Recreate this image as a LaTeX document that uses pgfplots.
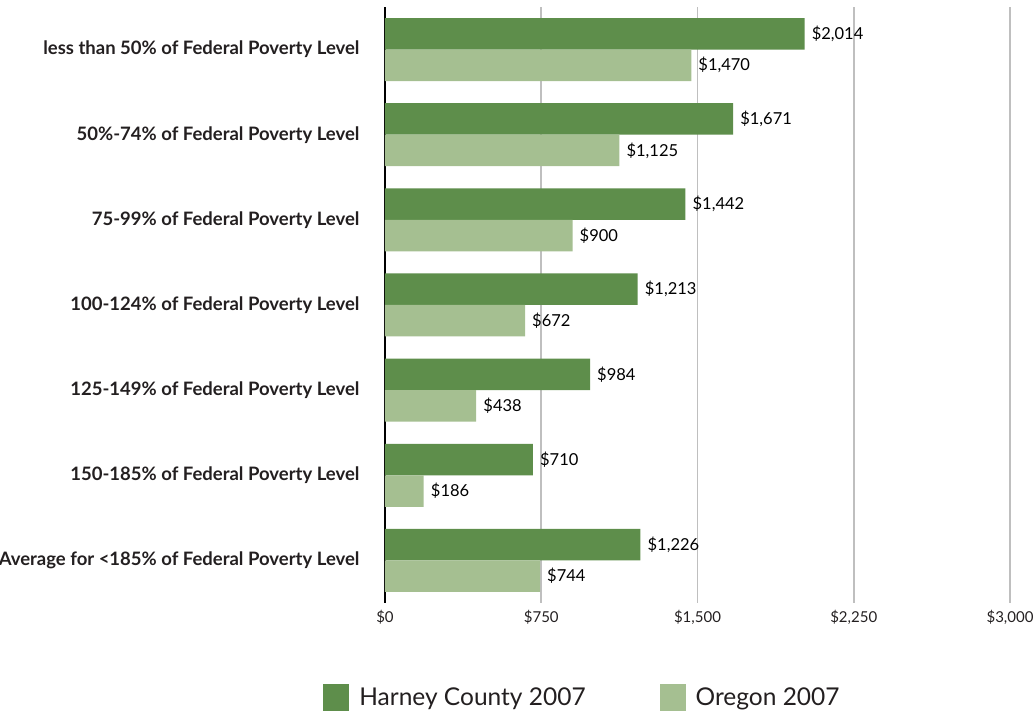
\documentclass[border=0pt]{standalone}
\usepackage{pgfplots}
\pgfplotsset{compat=1.18}
\usepackage{fontspec}
\setmainfont{Lato}
\definecolor{dg}{RGB}{94,142,75}
\definecolor{lg}{RGB}{165,191,145}
\definecolor{gr}{RGB}{191,191,191}
\definecolor{tx}{RGB}{35,31,32}
\begin{document}
\begin{tikzpicture}[x=1pt,y=1pt]
\useasboundingbox (0,0) rectangle (1034,715);
\begin{axis}[
  at={(385pt,112pt)}, anchor=south west,
  scale only axis, width=625pt, height=596pt,
  xbar, bar width=31.5pt,
  xmin=0, xmax=3000, ymin=-0.5, ymax=6.5,
  xtick={0,750,1500,2250,3000},
  xticklabels={{\$0},{\$750},{\$1,500},{\$2,250},{\$3,000}},
  ytick={0,1,2,3,4,5,6},
  yticklabels={{Average for <185\% of Federal Poverty Level},{150-185\% of Federal Poverty Level},{125-149\% of Federal Poverty Level},{100-124\% of Federal Poverty Level},{75-99\% of Federal Poverty Level},{50\%-74\% of Federal Poverty Level},{less than 50\% of Federal Poverty Level}},
  yticklabel style={font=\fontsize{18.5}{22}\selectfont\bfseries, text=tx, xshift=-22pt},
  xticklabel style={font=\fontsize{15}{18}\selectfont, text=tx, yshift=-4pt},
  major tick length=0pt,
  axis lines=left,
  x axis line style={draw=none},
  y axis line style={-, black, line width=1.6pt},
  xmajorgrids, grid style={gr, line width=1.6pt},
  nodes near coords={\$\pgfmathprintnumber{\pgfplotspointmeta}},
  nodes near coords align={horizontal},
  every node near coord/.append style={font=\fontsize{16.5}{19}\selectfont, text=black, anchor=west, inner sep=2pt, xshift=5pt},
  point meta=explicit,
  /pgf/number format/.cd, 1000 sep={,}, fixed, precision=0, assume math mode=true,
  /pgfplots/.cd,
  legend style={at={(0.316,-0.159)}, anchor=center, draw=none, fill=none,
    font=\fontsize{24.5}{28}\selectfont, text=tx,
    /tikz/every odd column/.append style={column sep=8pt},
    /tikz/every even column/.append style={column sep=72pt}},
  legend columns=2,
  legend image code/.code={\fill[#1] (0pt,-13.5pt) rectangle (26pt,13.5pt);},
]
\addplot[fill=dg, draw=none, bar shift=15.75pt] coordinates {
(2014,6) [2014] (1671,5) [1671] (1442,4) [1442] (1213,3) [1213] (984,2) [984] (710,1) [710] (1226,0) [1226]};
\addplot[fill=lg, draw=none, bar shift=-15.75pt] coordinates {
(1470,6) [1470] (1125,5) [1125] (900,4) [900] (672,3) [672] (438,2) [438] (186,1) [186] (744,0) [744]};
\legend{Harney County 2007, Oregon 2007}
\end{axis}
\end{tikzpicture}
\end{document}
